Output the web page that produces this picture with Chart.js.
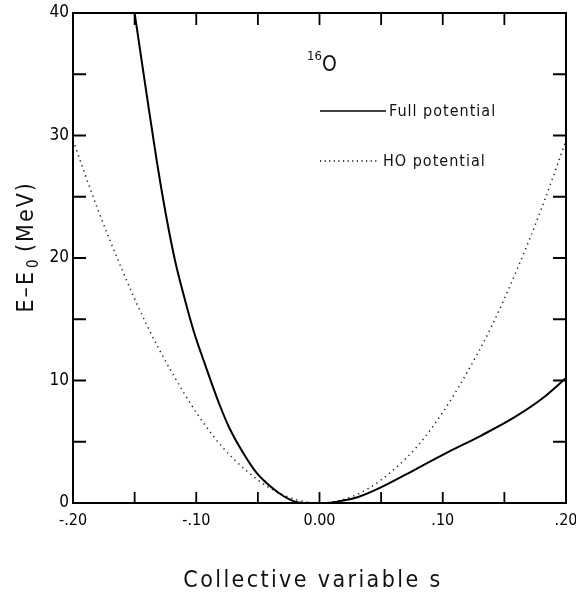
<!DOCTYPE html>
<html>
<head>
<meta charset="utf-8">
<script src="https://cdn.jsdelivr.net/npm/chart.js@4.4.1/dist/chart.umd.min.js"></script>
<style>
  html, body { margin: 0; padding: 0; background: #fff; }
  #wrap { width: 576px; height: 593px; }
</style>
</head>
<body>
<div id="wrap"><canvas id="chart" width="576" height="593"></canvas></div>
<script>
// values
var fullS = [-0.150, -0.140, -0.132, -0.124, -0.117, -0.110, -0.102, -0.096, -0.089, -0.081, -0.073, -0.062, -0.051, -0.040, -0.029, -0.019, -0.010, -0.003, 0.005, 0.015, 0.032, 0.051, 0.078, 0.105, 0.132, 0.159, 0.181, 0.200];
var fullE = [40.0, 33.2, 27.9, 23.2, 19.7, 16.9, 14.0, 12.2, 10.2, 8.0, 6.1, 4.1, 2.45, 1.36, 0.55, 0.08, 0.0, 0.0, 0.0, 0.12, 0.51, 1.33, 2.75, 4.19, 5.55, 7.05, 8.55, 10.2];

var hoS = [-0.20, -0.18, -0.16, -0.14, -0.12, -0.10, -0.08, -0.06, -0.04, -0.02, 0.00, 0.02, 0.04, 0.06, 0.08, 0.10, 0.12, 0.14, 0.16, 0.18, 0.20];
var hoE = [29.6, 24.0, 19.0, 14.5, 10.7, 7.4, 4.7, 2.7, 1.2, 0.3, 0.0, 0.3, 1.2, 2.7, 4.7, 7.4, 10.7, 14.5, 19.0, 24.0, 29.6];

var xTickLabels = {"-0.2": "-.20", "-0.1": "-.10", "0": "0.00", "0.1": ".10", "0.2": ".20"};
var yTickLabels = {"0": "0", "10": "10", "20": "20", "30": "30", "40": "40"};

var fontFamily = "'DejaVu Sans Condensed', 'DejaVu Sans', sans-serif";

function toPoints(xs, ys){
  var pts = [];
  for (var i = 0; i < xs.length; i++) pts.push({x: xs[i], y: ys[i]});
  return pts;
}

function roundKey(v){
  return String(Math.round(v * 1000) / 1000);
}

// inward ticks, frame, titles and legend
var decorPlugin = {
  id: "decor",
  afterDraw: function(chart){
    var ctx = chart.ctx;
    var a = chart.chartArea;
    var xs = chart.scales.x, ys = chart.scales.y;
    ctx.save();
    ctx.strokeStyle = "#000";
    ctx.lineWidth = 2;
    ctx.strokeRect(a.left, a.top, a.right - a.left, a.bottom - a.top);

    ctx.lineWidth = 1.8;
    ctx.beginPath();
    xs.ticks.forEach(function(t){
      var px = xs.getPixelForValue(t.value);
      ctx.moveTo(px, a.bottom); ctx.lineTo(px, a.bottom - 11);
      ctx.moveTo(px, a.top); ctx.lineTo(px, a.top + 12);
    });
    ys.ticks.forEach(function(t){
      var py = ys.getPixelForValue(t.value);
      ctx.moveTo(a.left, py); ctx.lineTo(a.left + 13, py);
      ctx.moveTo(a.right, py); ctx.lineTo(a.right - 13, py);
    });
    ctx.stroke();

    ctx.fillStyle = "#111";
    // x title
    ctx.font = "23px " + fontFamily;
    ctx.letterSpacing = "2.4px";
    ctx.textAlign = "center";
    ctx.textBaseline = "middle";
    ctx.fillText("Collective variable s", 313, 581);
    ctx.letterSpacing = "0px";

    // y title
    ctx.save();
    ctx.translate(27, 258);
    ctx.rotate(-Math.PI / 2);
    ctx.font = "23px " + fontFamily;
    ctx.textAlign = "right";
    ctx.letterSpacing = "2px";
    ctx.fillText("E\u2013E", -12, 0);
    ctx.font = "15px " + fontFamily;
    ctx.textAlign = "left";
    ctx.fillText("0", -10, 7);
    ctx.font = "23px " + fontFamily;
    ctx.fillText("(MeV)", 6, 0);
    ctx.restore();

    // nucleus label
    ctx.textAlign = "left";
    ctx.textBaseline = "alphabetic";
    ctx.font = "13px " + fontFamily;
    ctx.fillText("16", 307, 60);
    ctx.font = "21px " + fontFamily;
    ctx.fillText("O", 322, 71);

    // legend
    ctx.font = "16px " + fontFamily;
    ctx.letterSpacing = "1px";
    ctx.textBaseline = "middle";
    ctx.lineWidth = 1.6;
    ctx.beginPath();
    ctx.moveTo(320, 111); ctx.lineTo(386, 111);
    ctx.stroke();
    ctx.fillText("Full potential", 389, 112);
    ctx.setLineDash([1.2, 3.4]);
    ctx.lineWidth = 1.4;
    ctx.beginPath();
    ctx.moveTo(320, 161); ctx.lineTo(378, 161);
    ctx.stroke();
    ctx.setLineDash([]);
    ctx.fillText("HO potential", 383, 162);
    ctx.restore();
  }
};

new Chart(document.getElementById("chart"), {
  type: "scatter",
  data: {
    datasets: [
      {
        label: "Full potential",
        data: toPoints(fullS, fullE),
        showLine: true,
        borderColor: "#000",
        borderWidth: 2,
        pointRadius: 0,
        cubicInterpolationMode: "monotone",
        fill: false
      },
      {
        label: "HO potential",
        data: toPoints(hoS, hoE),
        showLine: true,
        borderColor: "#222",
        borderWidth: 1.5,
        borderDash: [1.3, 4],
        pointRadius: 0,
        cubicInterpolationMode: "monotone",
        fill: false
      }
    ]
  },
  options: {
    responsive: false,
    animation: false,
    plugins: {
      legend: { display: false },
      tooltip: { enabled: false }
    },
    scales: {
      x: {
        type: "linear",
        min: -0.2,
        max: 0.2,
        afterFit: function(scale){
          scale.height = 90;
          scale.paddingLeft = 0;
          scale.paddingRight = 0;
        },
        grid: { display: false, drawTicks: false },
        border: { display: false },
        ticks: {
          stepSize: 0.05,
          padding: 8,
          color: "#000",
          font: { family: fontFamily, size: 16 },
          maxRotation: 0,
          autoSkip: false,
          callback: function(v){
            var k = roundKey(v);
            return (k in xTickLabels) ? xTickLabels[k] : "";
          }
        }
      },
      y: {
        type: "linear",
        min: 0,
        max: 40,
        afterFit: function(scale){
          scale.width = 73;
          scale.paddingTop = 0;
          scale.paddingBottom = 0;
        },
        grid: { display: false, drawTicks: false },
        border: { display: false },
        ticks: {
          stepSize: 5,
          padding: 4,
          color: "#000",
          font: { family: fontFamily, size: 17 },
          autoSkip: false,
          callback: function(v){
            var k = roundKey(v);
            return (k in yTickLabels) ? yTickLabels[k] : "";
          }
        }
      }
    },
    layout: { padding: { top: 13, right: 10, left: 0, bottom: 0 } }
  },
  plugins: [decorPlugin]
});
</script>
</body>
</html>
